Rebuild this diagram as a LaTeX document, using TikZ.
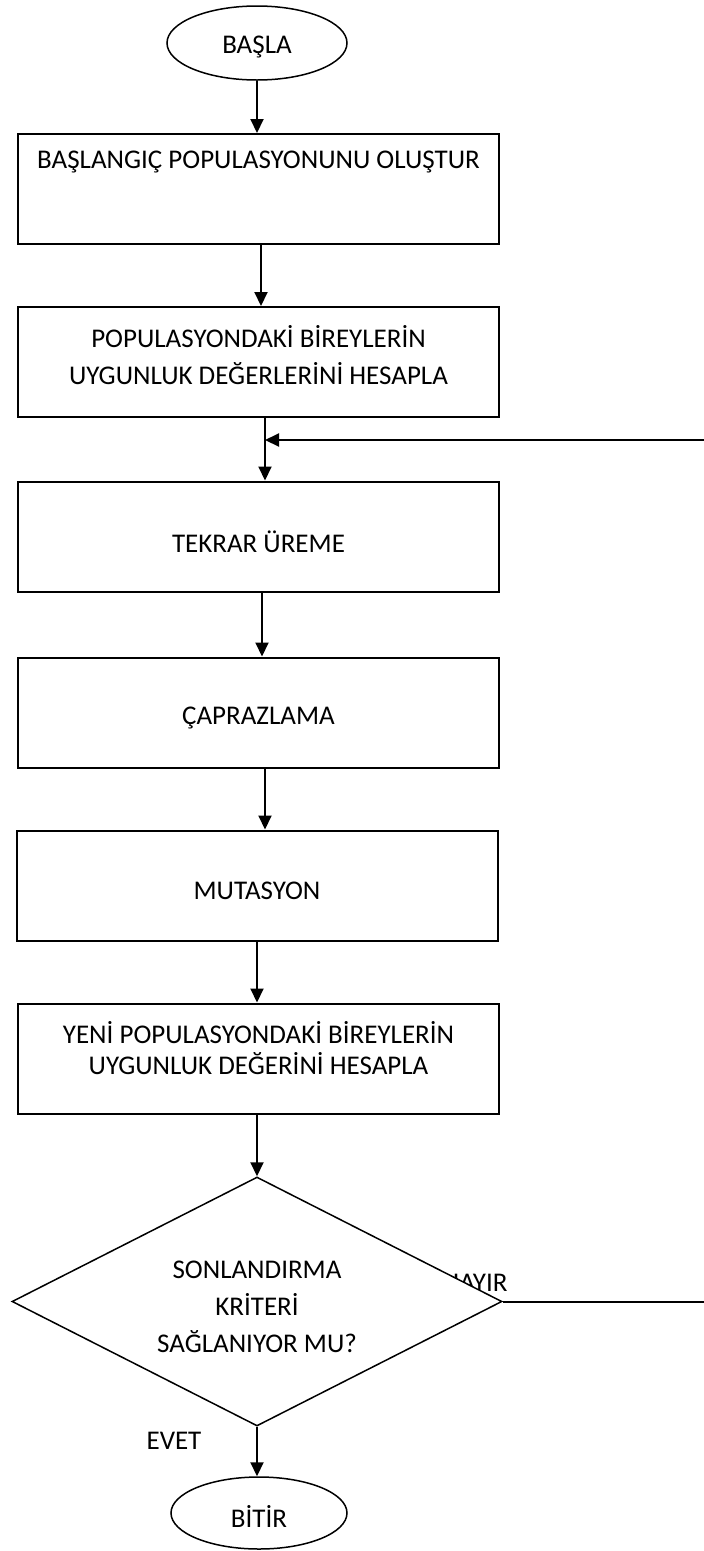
\documentclass[tikz,border=0pt]{standalone}
\usepackage{fontspec}
\setmainfont{Carlito}
\usetikzlibrary{shapes.geometric,arrows.meta,positioning}

\begin{document}
\begin{tikzpicture}[
  x=1pt, y=-1pt,
  font=\fontsize{27}{37}\selectfont,
  terminal/.style={ellipse, draw, line width=1.5pt, inner sep=0pt},
  stepbox/.style={rectangle, draw, line width=2pt,
                  minimum width=481pt, minimum height=110pt,
                  align=center, inner sep=0pt},
  decision/.style={diamond, draw, line width=1.5pt, fill=white,
                   minimum width=490pt, minimum height=249pt,
                   align=center, inner sep=0pt},
  arr/.style={-{Triangle[length=14pt,width=13pt]}, line width=2pt},
  lab/.style={inner sep=0pt}
]
\useasboundingbox (0,0) rectangle (704,1551);

\node[terminal, minimum width=180pt, minimum height=74pt,
      label={[yshift=-4pt]center:BAŞLA}] (start) at (257,43) {};
\node[stepbox, label={[yshift=27pt]center:BAŞLANGIÇ POPULASYONUNU OLUŞTUR}] (init) at (258.5,189) {};
\node[stepbox, label={[yshift=7pt, align=center]center:POPULASYONDAKİ BİREYLERİN\\UYGUNLUK DEĞERLERİNİ HESAPLA}] (fit) at (258.5,362) {};
\node[stepbox, label={[yshift=-5pt]center:TEKRAR ÜREME}] (rep) at (258.5,536.5) {};
\node[stepbox, label={[yshift=-5pt]center:ÇAPRAZLAMA}] (cross) at (258.5,712.5) {};
\node[stepbox, label={[yshift=-5pt]center:MUTASYON}] (mut) at (257,885.5) {};
\node[stepbox, label={[yshift=10pt, align=center, font=\fontsize{27}{31}\selectfont]center:YENİ POPULASYONDAKİ BİREYLERİN\\UYGUNLUK DEĞERİNİ HESAPLA}] (eval) at (258.5,1058.5) {};

% Labels of the decision (HAYIR sits partly under the diamond)
\node[lab] (no) at (475,1283) {HAYIR};
\node[decision, label={[yshift=-5pt, align=center]center:SONLANDIRMA\\KRİTERİ\\SAĞLANIYOR MU?}] (dec) at (257,1301.5) {};
\node[lab] (yes) at (174,1441) {EVET};

\node[terminal, minimum width=176pt, minimum height=72pt,
      label={[yshift=-3pt]center:BİTİR}] (stop) at (259,1513) {};

% Arrows
\coordinate (merge) at (265,440);
\draw[arr] (start) -- (start |- init.north);
\draw[arr] ([xshift=2.5pt]init.south) -- ([xshift=2.5pt]fit.north);
\draw[arr] (fit.south -| merge) -- (rep.north -| merge);
\draw[arr] ([xshift=3.5pt]rep.south) -- ([xshift=3.5pt]cross.north);
\draw[arr] (cross.south -| merge) -- (mut.north -| merge);
\draw[arr] (mut.south -| dec.north) -- (eval.north -| dec.north);
\draw[arr] (eval.south -| dec.north) -- (dec.north);
\draw[arr] (dec.south) -- (stop.north -| dec.south);

% Loop back (NO)
\draw[arr] (dec.east) -- ++(230,0) |- (merge);
\end{tikzpicture}
\end{document}
